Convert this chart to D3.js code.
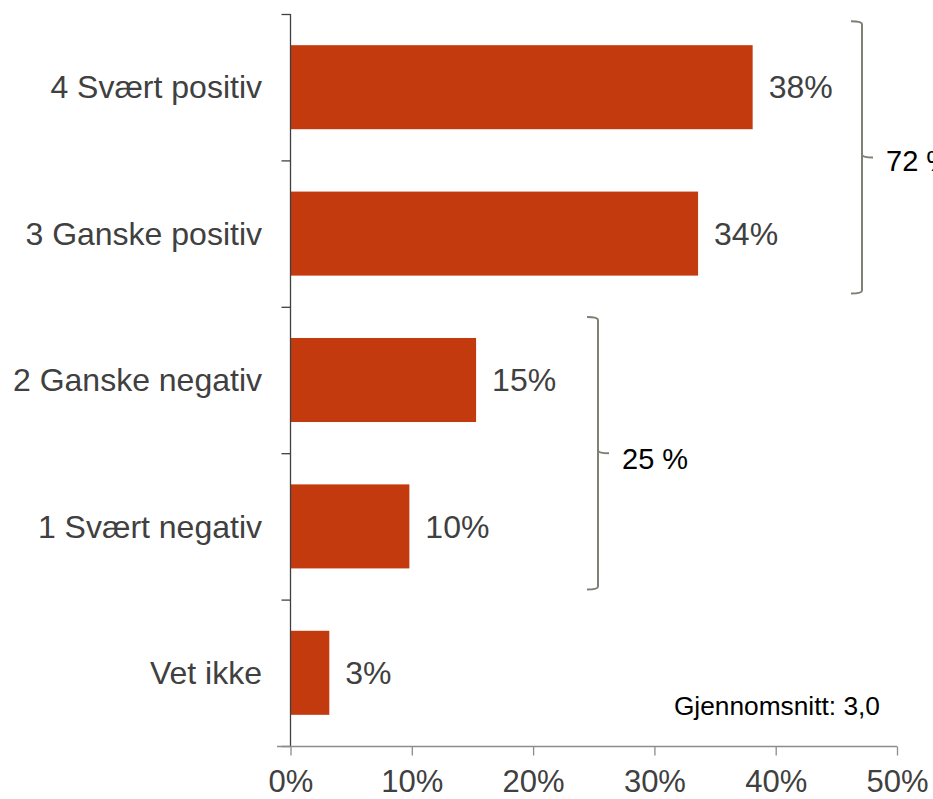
<!DOCTYPE html>
<html><head><meta charset="utf-8">
<script src="https://cdn.jsdelivr.net/npm/d3@7"></script>
<style>body{margin:0;background:#fff;}svg{display:block;font-family:"Liberation Sans",Arial,sans-serif;}</style>
</head><body>
<script>
const categories = ["4 Svært positiv","3 Ganske positiv","2 Ganske negativ","1 Svært negativ","Vet ikke"];
const values = [38.1, 33.6, 15.3, 9.8, 3.2];
const valueLabels = ["38%","34%","15%","10%","3%"];
const xTicks = [0,10,20,30,40,50];
const groups = [
  {from:"4 Svært positiv", to:"3 Ganske positiv", label:"72 %"},
  {from:"2 Ganske negativ", to:"1 Svært negativ", label:"25 %"}
];
const note = "Gjennomsnitt: 3,0";

const W=933,H=799;
const svg=d3.select("body").append("svg").attr("width",W).attr("height",H);
const x=d3.scaleLinear().domain([0,50]).range([290.5,897]);
const y=d3.scaleBand().domain(categories).range([14,746]).paddingInner(0.426).paddingOuter(0.213);
const yEdge=d3.scaleLinear().domain([0,categories.length]).range([14,746]);

// bars
svg.selectAll("rect.bar").data(values).join("rect")
  .attr("x",x(0)).attr("y",(d,i)=>y(categories[i]))
  .attr("width",d=>x(d)-x(0)).attr("height",y.bandwidth())
  .attr("fill","#C33A0E");

// value labels
svg.selectAll("text.val").data(values).join("text")
  .attr("x",d=>x(d)+16).attr("y",(d,i)=>y(categories[i])+y.bandwidth()/2)
  .attr("dy","0.35em").attr("font-size",32).attr("fill","#404040")
  .text((d,i)=>valueLabels[i]);

// y axis
const yAx=svg.append("g").attr("transform","translate(290.5,0)")
  .call(d3.axisLeft(yEdge).tickValues(d3.range(0,categories.length+1)).tickFormat("").tickSize(9).tickSizeOuter(0));
yAx.selectAll("path,line").attr("stroke","#404040").attr("stroke-width",1.3);
yAx.select(".domain").attr("d","M0,14V746");
svg.selectAll("text.cat").data(categories).join("text")
  .attr("x",262).attr("y",d=>y(d)+y.bandwidth()/2).attr("dy","0.35em")
  .attr("text-anchor","end").attr("font-size",32).attr("fill","#404040").text(d=>d);

// x axis
const xAx=svg.append("g").attr("transform","translate(0,746.5)")
  .call(d3.axisBottom(x).tickValues(xTicks).tickFormat(d=>d+"%").tickSize(9).tickSizeOuter(0).tickPadding(14));
xAx.select(".domain").attr("d","M277,0H"+x(50)).attr("stroke","#8c8c8c").attr("stroke-width",1.3);
xAx.selectAll("line").attr("stroke","#8c8c8c").attr("stroke-width",1.3);
xAx.selectAll("text").attr("font-size",31).attr("fill","#404040").attr("font-family","Liberation Sans, Arial, sans-serif");

// brackets
const bx=[{bx:862,pt:24,pb:18,ld:3},{bx:598,pt:21,pb:21,ld:6}];
groups.forEach((g,i)=>{
  const top=y(g.from)-bx[i].pt, bot=y(g.to)+y.bandwidth()+bx[i].pb, mid=(top+bot)/2;
  const X=bx[i].bx;
  svg.append("path").attr("fill","none").attr("stroke","#7f7f73").attr("stroke-width",2)
    .attr("d",`M${X-11},${top}Q${X},${top} ${X},${top+3}V${mid-3}Q${X},${mid} ${X+11},${mid}M${X},${mid-3}Q${X},${mid} ${X},${mid+3}V${bot-3}Q${X},${bot} ${X-11},${bot}`);
  svg.append("text").attr("x",X+24).attr("y",mid+bx[i].ld).attr("dy","0.35em")
    .attr("font-size",29).attr("fill","#000").text(g.label);
});

svg.append("text").attr("x",880).attr("y",706).attr("dy","0.35em").attr("text-anchor","end")
  .attr("font-size",26.3).attr("fill","#000").text(note);
</script>
</body></html>
